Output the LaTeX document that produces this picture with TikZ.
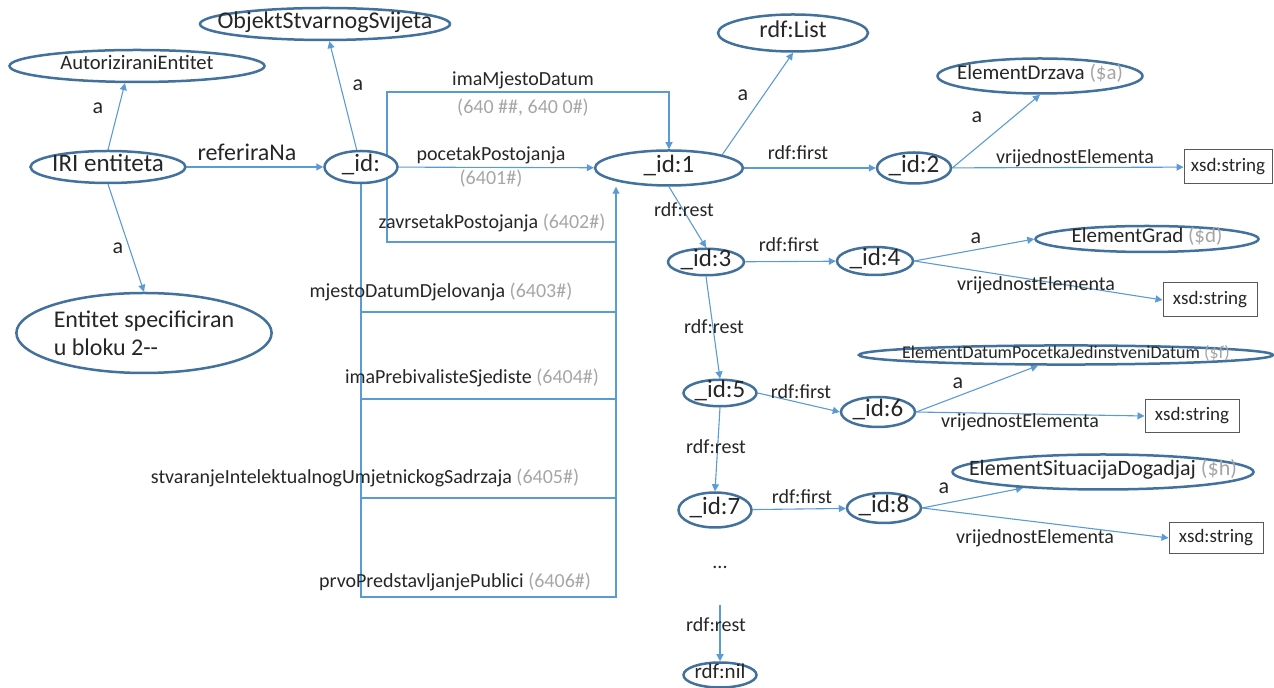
\documentclass[tikz,border=0pt]{standalone}
\usepackage{fontspec}
\setmainfont{Carlito}
\usepackage{tikz}
\usetikzlibrary{shapes.geometric,arrows.meta,backgrounds}

\definecolor{ringblue}{HTML}{41719C}
\definecolor{wireblue}{HTML}{5B9BD5}
\definecolor{codegray}{HTML}{A6A6A6}
\definecolor{inkgray}{HTML}{262626}

% text that must not widen its ellipse
\newcommand{\fitin}[1]{\makebox[0pt]{\raisebox{0pt}[0.55em][0.2em]{#1}}}
\newcommand{\code}[1]{\textcolor{codegray}{#1}}

\tikzset{
  ent/.style={ellipse, draw=ringblue, line width=1.25pt, fill=white, inner sep=0pt,
    text=inkgray, font=\fontsize{12.5}{14}\selectfont},
  lit/.style={rectangle, draw=black!65, line width=0.5pt, fill=white, inner sep=0pt,
    text=inkgray, font=\fontsize{9.5}{11}\selectfont},
  lbl/.style={text=inkgray, inner sep=0pt, font=\fontsize{10}{12}\selectfont},
  alabel/.style={lbl, font=\fontsize{11}{12}\selectfont},
  rel/.style={draw=wireblue, line width=0.55pt, -{Triangle[length=3.5pt,width=3.5pt]}},
  bus/.style={draw=wireblue, line width=0.55pt},
}

\begin{document}
\begin{tikzpicture}[x=0.5pt,y=-0.5pt]
\useasboundingbox (0,0) rectangle (1274,688);

% entity side
\node[ent,minimum width=127.5pt,minimum height=16pt,font=\fontsize{10.3}{12}\selectfont] (auth) at (137,66) {\fitin{AutoriziraniEntitet}};
\node[ent,minimum width=125pt,minimum height=16pt,font=\fontsize{12}{14}\selectfont] (objekt) at (325,24) {\fitin{ObjektStvarnogSvijeta}};
\node[ent,minimum width=77.5pt,minimum height=16pt] (iri) at (108,167) {\fitin{IRI entiteta}};
\node[ent,minimum width=36.5pt,minimum height=16pt] (id0) at (361,167) {\fitin{\_id:}};
\node[ent,minimum width=127.5pt,minimum height=40pt,align=left,font=\fontsize{12}{14}\selectfont] (spec) at (144,333) {Entitet specificiran\\u bloku 2-{}-};

% list
\node[ent,minimum width=74pt,minimum height=17.5pt] (id1) at (669,168) {\fitin{\_id:1}};
\node[ent,minimum width=75pt,minimum height=18.5pt,font=\fontsize{12}{14}\selectfont] (list) at (793,33) {\fitin{rdf:List}};
\node[ent,minimum width=37pt,minimum height=15.5pt] (id2) at (914,168) {\fitin{\_id:2}};
\node[ent,minimum width=102.5pt,minimum height=17.5pt,font=\fontsize{10.5}{12}\selectfont] (drzava) at (1040,76) {\fitin{ElementDrzava \code{(\$a)}}};
\node[lit,minimum width=44pt,minimum height=17pt] (str1) at (1228,167) {xsd:string};

\node[ent,minimum width=38pt,minimum height=12.5pt] (id3) at (706,262) {\fitin{\_id:3}};
\node[ent,minimum width=38pt,minimum height=14pt] (id4) at (875,261) {\fitin{\_id:4}};
\node[ent,minimum width=111.5pt,minimum height=13pt,font=\fontsize{10.5}{12}\selectfont] (grad) at (1147,239) {\fitin{ElementGrad \code{(\$d)}}};
\node[lit,minimum width=47pt,minimum height=17pt] (str2) at (1210,300) {xsd:string};

\node[ent,minimum width=36.5pt,minimum height=12.5pt] (id5) at (720,393) {\fitin{\_id:5}};
\node[ent,minimum width=37pt,minimum height=15pt] (id6) at (878,412) {\fitin{\_id:6}};
\node[ent,minimum width=207pt,minimum height=9pt,font=\fontsize{9}{10}\selectfont] (datum) at (1066,355) {\fitin{ElementDatumPocetkaJedinstveniDatum \code{(\$f)}}};
\node[lit,minimum width=47pt,minimum height=16.5pt] (str3) at (1192,416) {xsd:string};

\node[ent,minimum width=36.5pt,minimum height=17.5pt] (id7) at (715,510) {\fitin{\_id:7}};
\node[ent,minimum width=37pt,minimum height=15pt] (id8) at (884,508) {\fitin{\_id:8}};
\node[ent,minimum width=150.5pt,minimum height=17.5pt,font=\fontsize{11}{12}\selectfont] (situacija) at (1103,472) {\fitin{ElementSituacijaDogadjaj \code{(\$h)}}};
\node[lit,minimum width=47pt,minimum height=15.5pt] (str4) at (1216,538) {xsd:string};

\node[lbl] (dots) at (720,567) {...};
\node[ent,minimum width=36.5pt,minimum height=12.5pt,font=\fontsize{10.5}{12}\selectfont] (nil) at (720,675) {\fitin{rdf:nil}};

% bends of the property lines
\coordinate (fork) at (387,167);
\coordinate (bendA) at (669,92);
\coordinate (bendB) at (616,242);
\coordinate (bendD) at (616,597);
\coordinate (tail) at (720,605);

\begin{scope}[on background layer]
\draw[rel] (iri.north) -- (auth.235);
\draw[rel] (iri.south) -- (spec.north);
\draw[rel] (iri) -- (id0);
\draw[rel] (id0) -- (objekt);
\draw[rel] (id0) -- (id1);
\draw[rel] (fork) |- (bendA) -- (id1.north);
\draw[bus] (fork) |- (bendB);
\draw[rel] (bendB) -- (bendB |- id1.south);
\draw[bus] (id0.south) |- (bendD) -- (bendB);
\foreach \y in {312,399,498}
  \draw[bus] (id0.south |- 0,\y) -- (bendB |- 0,\y);

\draw[rel] (id1.north east) -- (list.south);
\draw[rel] (id1) -- (id2);
\draw[rel] (id2.east) -- (drzava.south);
\draw[rel] (id2) -- (str1);
\draw[rel] (id1.south) -- (id3.north);
\draw[rel] (id3) -- (id4);
\draw[rel] (id4.east) -- (grad.west);
\draw[rel] (id4.east) -- (str2.west);
\draw[rel] (id3.south) -- (id5.north);
\draw[rel] (id5.east) -- (id6.west);
\draw[rel] (id6.east) -- (datum);
\draw[rel] (id6.east) -- (str3.west);
\draw[rel] (id5.south) -- (id7.north);
\draw[rel] (id7) -- (id8);
\draw[rel] (id8.east) -- (situacija);
\draw[rel] (id8.east) -- (str4.west);
\draw[rel] (tail) -- (nil);
\end{scope}

% labels
\node[alabel] (a-auth) at (98,108) {a};
\node[alabel] (a-spec) at (118,248) {a};
\node[lbl,font=\fontsize{12}{14}\selectfont] (l-ref) at (247,152) {referiraNa};
\node[alabel] (a-objekt) at (358,85) {a};
\node[lbl,align=center,font=\fontsize{10}{14}\selectfont] (l-ima) at (523,94) {imaMjestoDatum\\\code{(640 \#\#, 640 0\#)}};
\node[lbl,align=center,font=\fontsize{10}{12}\selectfont] (l-poc) at (491,167) {pocetakPostojanja\\\code{(6401\#)}};
\node[lbl] (l-zav) at (492,223) {zavrsetakPostojanja \code{(6402\#)}};
\node[lbl] (l-mje) at (441,292) {mjestoDatumDjelovanja \code{(6403\#)}};
\node[lbl] (l-preb) at (472,378) {imaPrebivalisteSjediste \code{(6404\#)}};
\node[lbl] (l-stv) at (365,478) {stvaranjeIntelektualnogUmjetnickogSadrzaja \code{(6405\#)}};
\node[lbl] (l-prvo) at (455,582) {prvoPredstavljanjePublici \code{(6406\#)}};

\node[alabel] (a-list) at (743,95) {a};
\node[lbl] (f-1) at (798,153) {rdf:first};
\node[alabel] (a-drzava) at (977,117) {a};
\node[lbl] (v-2) at (1075,158) {vrijednostElementa};
\node[lbl] (r-1) at (684,210) {rdf:rest};
\node[lbl] (f-3) at (789,245) {rdf:first};
\node[alabel] (a-grad) at (976,238) {a};
\node[lbl] (v-4) at (1036,285) {vrijednostElementa};
\node[lbl] (r-3) at (714,327) {rdf:rest};
\node[lbl] (f-5) at (801,392) {rdf:first};
\node[alabel] (a-datum) at (958,383) {a};
\node[lbl] (v-6) at (1020,422) {vrijednostElementa};
\node[lbl] (r-5) at (716,447) {rdf:rest};
\node[lbl] (f-7) at (802,497) {rdf:first};
\node[alabel] (a-sit) at (944,488) {a};
\node[lbl] (v-8) at (1035,538) {vrijednostElementa};
\node[lbl] (r-n) at (716,625) {rdf:rest};
\end{tikzpicture}
\end{document}
